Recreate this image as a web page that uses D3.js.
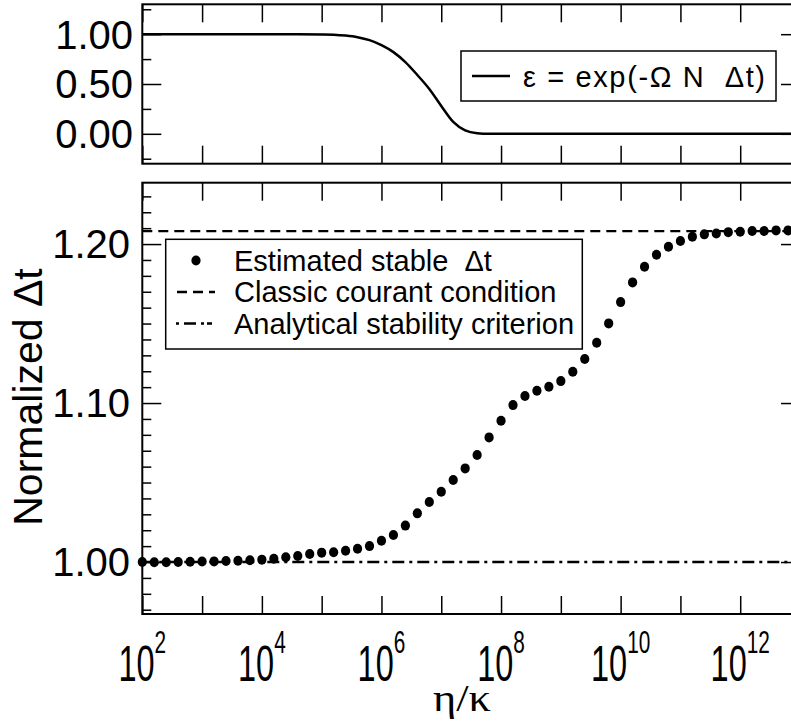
<!DOCTYPE html>
<html><head><meta charset="utf-8">
<script src="https://cdn.jsdelivr.net/npm/d3@7"></script>
<style>
body{margin:0;background:#fff}
svg{display:block}
text{font-family:"Liberation Sans",Arial,Helvetica,sans-serif;fill:#000}
</style>
</head><body>
<svg id="c" width="791" height="721"></svg>
<script>
// ---------- data ----------
const xTickExponents = [2,3,4,5,6,7,8,9,10,11,12,13];
const xLabelExponents = [2,4,6,8,10,12];

const topYTicks = [0, 0.5, 1.0];
const topYTickLabels = ["0.00","0.50","1.00"];
const topYMinor = [-0.25, 0.25, 0.75, 1.25];

const botYTicks = [1.0, 1.1, 1.2];
const botYTickLabels = ["1.00","1.10","1.20"];
const botYMinor = [0.97,0.98,0.99,1.01,1.02,1.03,1.04,1.05,1.06,1.07,1.08,1.09,
                   1.11,1.12,1.13,1.14,1.15,1.16,1.17,1.18,1.19,1.21,1.22,1.23];

// epsilon curve (log10 of eta/kappa, value)
const epsExp = [2.0,3.0,4.0,4.6,5.0,5.2,5.4,5.6,5.8,6.0,6.2,6.4,6.6,6.8,7.0,7.2,7.4,7.6,7.8,8.0,9.0,10.0,11.0,12.0,13.0];
const epsVal = [1.0,1.0,1.0,1.0,0.998,0.995,0.986,0.97,0.94,0.89,0.82,0.72,0.59,0.45,0.28,0.12,0.035,0.006,0.0,0.0,0.0,0.0,0.0,0.0,0.0];

// estimated stable dt (log10 of eta/kappa, normalized dt)
const dtExp = [2.0,2.2,2.4,2.6,2.8,3.0,3.2,3.4,3.6,3.8,4.0,4.2,4.4,4.6,4.8,5.0,5.2,5.4,5.6,5.8,
               6.0,6.2,6.4,6.6,6.8,7.0,7.2,7.4,7.6,7.8,8.0,8.2,8.4,8.6,8.8,9.0,9.2,9.4,9.6,9.8,
               10.0,10.2,10.4,10.6,10.8,11.0,11.2,11.4,11.6,11.8,12.0,12.2,12.4,12.6,12.8];
const dtVal = [1.0000,0.9999,0.9999,1.0000,1.0002,1.0003,1.0004,1.0006,1.0008,1.0011,
               1.0015,1.0021,1.0030,1.0038,1.0050,1.0059,1.0061,1.0071,1.0084,1.0100,
               1.0134,1.0170,1.0229,1.0306,1.0377,1.0442,1.0516,1.0589,1.0673,1.0784,
               1.0889,1.0987,1.1044,1.1077,1.1103,1.1138,1.1197,1.1277,1.1379,1.1501,
               1.1635,1.1759,1.1857,1.1933,1.1983,1.2019,1.2046,1.2061,1.2067,1.2075,
               1.2077,1.2082,1.2082,1.2086,1.2086];

const courantDt = 1.2082;
const analyticalDt = 1.0;

// ---------- layout ----------
const svg = d3.select("#c");
svg.append("rect").attr("width",791).attr("height",721).attr("fill","#fff");

const L = 142.3, R = 800;
const x = d3.scaleLog().domain([1e2, 1e13]).range([L, R]);
const yTop = d3.scaleLinear().domain([-0.3, 1.3]).range([163.7, 4.3]);
const yBot = d3.scaleLinear().domain([0.9673, 1.2386]).range([614, 182.7]);

const xTickVals = xTickExponents.map(e => Math.pow(10, e));

function styleAxis(g, w){
  g.select(".domain").remove();
  g.selectAll("line").attr("stroke","#000").attr("stroke-width", w);
  g.selectAll("text").remove();
}

function panelAxes(y, yT, yM, top, bottom, majorLen, minorLen, xLen){
  svg.append("g").attr("transform",`translate(0,${bottom})`)
     .call(d3.axisBottom(x).tickValues(xTickVals).tickSize(-xLen).tickSizeOuter(0))
     .call(g=>styleAxis(g,1.5));
  svg.append("g").attr("transform",`translate(0,${top})`)
     .call(d3.axisTop(x).tickValues(xTickVals).tickSize(-xLen).tickSizeOuter(0))
     .call(g=>styleAxis(g,1.5));
  svg.append("g").attr("transform",`translate(${L},0)`)
     .call(d3.axisLeft(y).tickValues(yT).tickSize(-majorLen).tickSizeOuter(0))
     .call(g=>styleAxis(g,1.5));
  svg.append("g").attr("transform",`translate(${L},0)`)
     .call(d3.axisLeft(y).tickValues(yM).tickSize(-minorLen).tickSizeOuter(0))
     .call(g=>styleAxis(g,1.5));
  svg.append("g").attr("transform",`translate(${R},0)`)
     .call(d3.axisRight(y).tickValues(yT).tickSize(-majorLen).tickSizeOuter(0))
     .call(g=>styleAxis(g,1.5));
  svg.append("g").attr("transform",`translate(${R},0)`)
     .call(d3.axisRight(y).tickValues(yM).tickSize(-minorLen).tickSizeOuter(0))
     .call(g=>styleAxis(g,1.5));
  svg.append("rect").attr("x",L).attr("y",top).attr("width",R-L).attr("height",bottom-top)
     .attr("fill","none").attr("stroke","#000").attr("stroke-width",2);
}

// ---------- top panel ----------
panelAxes(yTop, topYTicks, topYMinor, 4.3, 163.7, 19, 9, 18);

svg.append("g").selectAll("text").data(topYTicks).join("text")
  .attr("x",133).attr("y",d=>yTop(d)).attr("dy","0.36em")
  .attr("text-anchor","end").attr("font-size",40)
  .text((d,i)=>topYTickLabels[i]);

const epsData = epsExp.map((e,i)=>[Math.pow(10,e), epsVal[i]]);
svg.append("path").datum(epsData)
  .attr("fill","none").attr("stroke","#000").attr("stroke-width",2.5)
  .attr("d", d3.line().x(d=>x(d[0])).y(d=>yTop(d[1])).curve(d3.curveMonotoneX));

// top legend
const tl = svg.append("g");
tl.append("rect").attr("x",461).attr("y",51).attr("width",315).attr("height",50)
  .attr("fill","#fff").attr("stroke","#000").attr("stroke-width",1.5);
tl.append("line").attr("x1",472).attr("x2",510).attr("y1",76).attr("y2",76)
  .attr("stroke","#000").attr("stroke-width",2.5);
tl.append("text").attr("x",523).attr("y",87).attr("font-size",29)
  .attr("textLength",242).attr("lengthAdjust","spacing")
  .style("white-space","pre").text("ε = exp(-Ω N  Δt)");

// ---------- bottom panel ----------
panelAxes(yBot, botYTicks, botYMinor, 182.7, 614, 19, 9, 18);

svg.append("g").selectAll("text").data(botYTicks).join("text")
  .attr("x",130).attr("y",d=>yBot(d)).attr("dy","0.36em")
  .attr("text-anchor","end").attr("font-size",40)
  .text((d,i)=>botYTickLabels[i]);

svg.append("line").attr("x1",L).attr("x2",R).attr("y1",yBot(courantDt)).attr("y2",yBot(courantDt))
  .attr("stroke","#000").attr("stroke-width",2.3).attr("stroke-dasharray","10,6");
svg.append("line").attr("x1",L).attr("x2",R).attr("y1",yBot(analyticalDt)).attr("y2",yBot(analyticalDt))
  .attr("stroke","#000").attr("stroke-width",2.3).attr("stroke-dasharray","12,5,3,5");

const dtData = dtExp.map((e,i)=>[Math.pow(10,e), dtVal[i]]);
svg.append("g").selectAll("ellipse").data(dtData).join("ellipse")
  .attr("cx",d=>x(d[0])).attr("cy",d=>yBot(d[1])).attr("rx",4.6).attr("ry",5)
  .attr("fill","#000");

// bottom legend
const bl = svg.append("g");
bl.append("rect").attr("x",165.7).attr("y",239.3).attr("width",416.6).attr("height",109.7)
  .attr("fill","#fff").attr("stroke","#000").attr("stroke-width",1.5);
const rows = [270.5, 302, 333.5];
bl.append("ellipse").attr("cx",196).attr("cy",rows[0]-10).attr("rx",4.6).attr("ry",5).attr("fill","#000");
bl.append("line").attr("x1",177).attr("x2",215).attr("y1",rows[1]-10).attr("y2",rows[1]-10)
  .attr("stroke","#000").attr("stroke-width",2.3).attr("stroke-dasharray","10,6");
bl.append("line").attr("x1",176).attr("x2",216).attr("y1",rows[2]-10).attr("y2",rows[2]-10)
  .attr("stroke","#000").attr("stroke-width",2.3).attr("stroke-dasharray","3,5,12,5,3");
const legTexts = ["Estimated stable  Δt","Classic courant condition","Analytical stability criterion"];
bl.selectAll("text.lt").data(legTexts).join("text").attr("class","lt")
  .attr("x",234).attr("y",(d,i)=>rows[i]).attr("font-size",29)
  .style("white-space","pre").text(d=>d);

// x tick labels
const xl = svg.append("g").selectAll("text").data(xLabelExponents).join("text")
  .attr("transform",d=>`translate(${x(Math.pow(10,d))},681) scale(0.65,1)`)
  .attr("text-anchor","middle").attr("font-size",50);
xl.append("tspan").text("10");
xl.append("tspan").attr("font-size",32).attr("dy",-28).text(d=>d);

// axis titles
svg.append("text").attr("transform","translate(462,711) scale(1.2,1)").attr("text-anchor","middle")
  .attr("font-size",37).style("font-family","'Liberation Serif','Times New Roman',serif")
  .text("η/κ");
svg.append("text").attr("transform","translate(42,397) rotate(-90)")
  .attr("text-anchor","middle").attr("font-size",41)
  .text("Normalized Δt");
</script>
</body></html>
